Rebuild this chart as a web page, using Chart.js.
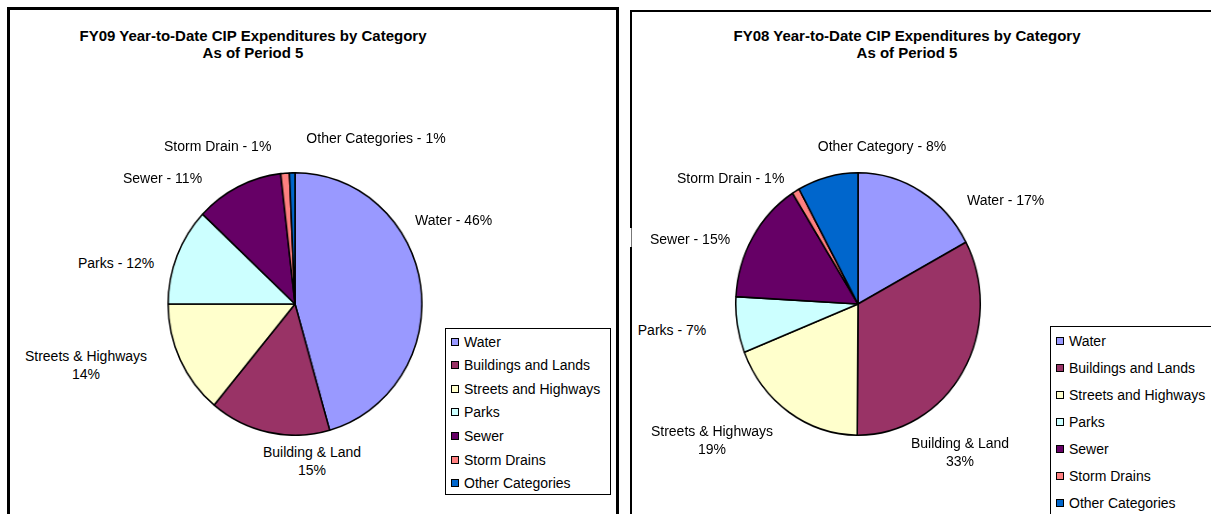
<!DOCTYPE html>
<html><head><meta charset="utf-8">
<script src="https://cdn.jsdelivr.net/npm/chart.js@4.4.0/dist/chart.umd.min.js"></script>
<style>
html,body{margin:0;padding:0;background:#fff;width:1211px;height:514px;overflow:hidden;font-family:"Liberation Sans",Arial,sans-serif;color:#000}
.panel{position:absolute;box-sizing:border-box;border-style:solid;border-color:#000}
#p1{left:7px;top:7px;width:612px;height:530px;border-width:3px 3px 0 3px}
#p2{left:630px;top:10px;width:620px;height:530px;border-width:2px 0 0 2px}
#gap{position:absolute;left:630px;top:228px;width:2px;height:19px;background:#fff;box-sizing:border-box;border-right:1px solid #777}
.t{position:absolute;font-weight:bold;font-size:15px;white-space:nowrap;transform:translateX(-50%);line-height:17px;text-align:center}
.lbl{position:absolute;font-size:14px;line-height:18px;white-space:nowrap}
.pie{position:absolute;width:264px;height:264px;transform-origin:50% 50%}
.legend{position:absolute;border:1px solid #000;background:#fff;box-sizing:border-box;font-size:14px}
.li{position:absolute;white-space:nowrap;line-height:16px;height:16px}
.sw{position:absolute;top:4px;width:8px;height:8px;box-sizing:border-box;border:1px solid #000}
.lt{position:absolute;top:0}
</style></head>
<body>
<div class="panel" id="p1"></div>
<div class="panel" id="p2"></div>
<div id="gap"></div>
<div class="t" style="left:253px;top:27px">FY09 Year-to-Date CIP Expenditures by Category<br>As of Period 5</div>
<div class="t" style="left:907px;top:27px">FY08 Year-to-Date CIP Expenditures by Category<br>As of Period 5</div>
<div class="pie" id="w1" style="left:162.5px;top:171.5px;transform:scaleX(0.967)"><canvas id="c1"></canvas></div>
<div class="pie" id="w2" style="left:726px;top:172px;transform:scaleX(0.932)"><canvas id="c2"></canvas></div>
<div class="legend" id="lg1" style="left:445px;top:328px;width:166px;height:167px"></div>
<div class="legend" id="lg2" style="left:1050px;top:326px;width:180px;height:210px"></div>
<div id="labels"></div>
<script>
// ---- data ----
const categories = ["Water","Buildings and Lands","Streets and Highways","Parks","Sewer","Storm Drains","Other Categories"];
const sliceColors = ["#9999FF","#993366","#FFFFCC","#CCFFFF","#660066","#FF8080","#0066CC"];
const fy09Values = [45.6,15.4,14.0,12.0,11.2,1.1,0.7];
const fy08Values = [17.2,32.9,18.9,6.9,15.1,1.0,8.0];
const fy09LabelNames = ["Water","Building & Land","Streets & Highways","Parks","Sewer","Storm Drain","Other Categories"];
const fy08LabelNames = ["Water","Building & Land","Streets & Highways","Parks","Sewer","Storm Drain","Other Category"];

// ---- layout (label anchor: x, center-y of first line, align) ----
const twoLineLabel = [false,true,true,false,false,false,false];
const fy09LabelPos = [[415,220,'left'],[312,452,'center'],[86,356,'center'],[78,263,'left'],[123,178,'left'],[164,146,'left'],[376,138,'center']];
const fy08LabelPos = [[967,200,'left'],[960,443,'center'],[712,431,'center'],[672,330,'center'],[650,239,'left'],[677,178,'left'],[882,146,'center']];

function makePie(id, values){
  return new Chart(document.getElementById(id), {
    type:'pie',
    data:{labels:categories,datasets:[{data:values,backgroundColor:sliceColors,borderColor:'#000',borderWidth:1.6}]},
    options:{responsive:true,maintainAspectRatio:false,animation:false,events:[],
      layout:{padding:0},
      plugins:{legend:{display:false},tooltip:{enabled:false},title:{display:false}}}
  });
}
makePie('c1', fy09Values);
makePie('c2', fy08Values);

function addLabels(names, values, pos){
  const total = values.reduce((a,b)=>a+b,0);
  const host = document.getElementById('labels');
  names.forEach((n,i)=>{
    const pct = Math.round(values[i]/total*100);
    const d = document.createElement('div');
    d.className='lbl';
    const [x,y,al] = pos[i];
    if(twoLineLabel[i]){ d.innerHTML = n + '<br>' + pct + '%'; }
    else { d.textContent = n + ' - ' + pct + '%'; }
    d.style.top = (y-9)+'px';
    d.style.textAlign = al;
    d.style.left = x+'px';
    if(al==='center'){ d.style.transform='translateX(-50%)'; }
    host.appendChild(d);
  });
}
addLabels(fy09LabelNames, fy09Values, fy09LabelPos);
addLabels(fy08LabelNames, fy08Values, fy08LabelPos);

function addLegend(id, firstY, step){
  const box = document.getElementById(id);
  const r = box.getBoundingClientRect();
  categories.forEach((c,i)=>{
    const it = document.createElement('div');
    it.className='li';
    it.style.left='5px';
    it.style.top=(firstY + i*step - 8 - r.top - 1)+'px';
    const sw = document.createElement('span'); sw.className='sw'; sw.style.left='0px'; sw.style.background=sliceColors[i];
    const tx = document.createElement('span'); tx.className='lt'; tx.style.left='13px'; tx.textContent=c;
    it.appendChild(sw); it.appendChild(tx); box.appendChild(it);
  });
}
addLegend('lg1', 341.5, 23.6);
addLegend('lg2', 340.7, 27);
</script>
</body></html>
